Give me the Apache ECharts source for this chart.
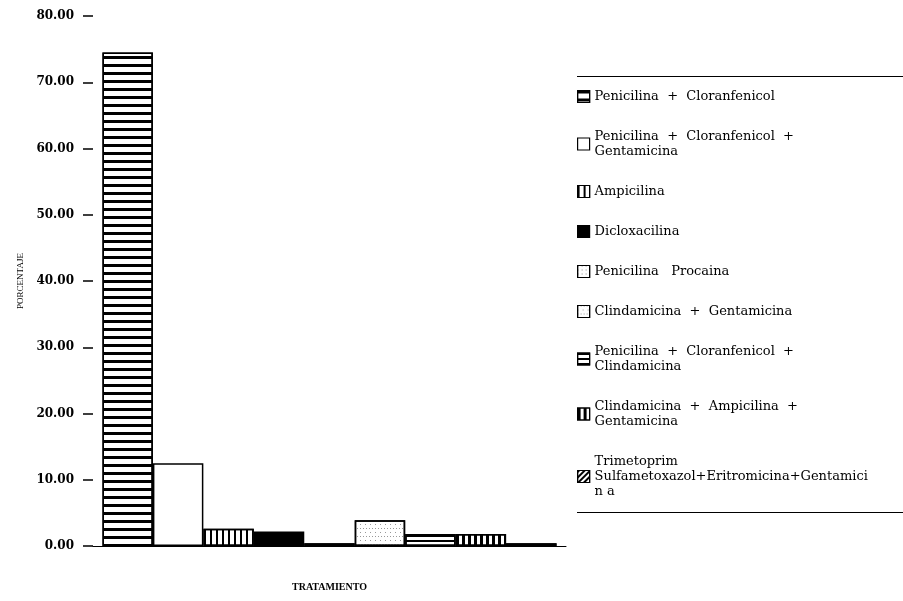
<!DOCTYPE html>
<html>
<head>
<meta charset="utf-8">
<script src="https://cdn.jsdelivr.net/npm/echarts@6/dist/echarts.min.js"></script>
<style>
    html, body { margin: 0; padding: 0; background: #fff; }
    #chart { width: 903px; height: 601px; }
</style>
</head>
<body>
<div id="chart"></div>
<script>
// one category on the x axis, one series per treatment
const categories = ['TRATAMIENTO'];

const treatments = [
    'Penicilina + Cloranfenicol',
    'Penicilina + Cloranfenicol + Gentamicina',
    'Ampicilina',
    'Dicloxacilina',
    'Penicilina Procaina',
    'Clindamicina + Gentamicina',
    'Penicilina + Cloranfenicol + Clindamicina',
    'Clindamicina + Ampicilina + Gentamicina',
    'Trimetoprim Sulfametoxazol+Eritromicina+Gentamicina'
];

// wrapped labels as printed in the legend
const legendLabels = [
    'Penicilina  +  Cloranfenicol',
    'Penicilina  +  Cloranfenicol  +\nGentamicina',
    'Ampicilina',
    'Dicloxacilina',
    'Penicilina   Procaina',
    'Clindamicina  +  Gentamicina',
    'Penicilina  +  Cloranfenicol  +\nClindamicina',
    'Clindamicina  +  Ampicilina  +\nGentamicina',
    'Trimetoprim\nSulfametoxazol+Eritromicina+Gentamici\nn a'
];

const percentages = [74.5, 12.5, 2.6, 2.2, 0.4, 3.9, 1.8, 1.8, 0.4];

const yTicks = { min: 0, max: 80, interval: 10 };

// fill pattern per series
const fills = [
    { color: '#fff', decal: { symbol: 'rect', symbolSize: 1, dashArrayX: [1, 0], dashArrayY: [3, 5], color: '#000' } },
    { color: '#fff', decal: null },
    { color: '#fff', decal: { symbol: 'rect', symbolSize: 1, dashArrayX: [2, 4], dashArrayY: [1, 0], color: '#000' } },
    { color: '#000', decal: null },
    { color: '#fff', decal: { symbol: 'rect', symbolSize: 1, dashArrayX: [1, 3], dashArrayY: [1, 3], color: '#888' } },
    { color: '#fff', decal: { symbol: 'rect', symbolSize: 1, dashArrayX: [[1, 4], [1, 2]], dashArrayY: [1, 3], color: '#999' } },
    { color: '#fff', decal: { symbol: 'rect', symbolSize: 1, dashArrayX: [1, 0], dashArrayY: [2, 3], color: '#000' } },
    { color: '#fff', decal: { symbol: 'rect', symbolSize: 1, dashArrayX: [3, 3], dashArrayY: [1, 0], color: '#000' } },
    { color: '#fff', decal: { symbol: 'rect', symbolSize: 1, dashArrayX: [1, 0], dashArrayY: [2, 2], rotation: -Math.PI / 4, color: '#000' } }
];

// legend icon for "Clindamicina + Gentamicina" is plain white
const legendFills = fills.map((f, i) => i === 5 ? { color: '#fff', decal: null } : f);

const serif = '"Liberation Serif", "DejaVu Serif", serif';
const wideSerif = '"DejaVu Serif", serif';

const chart = echarts.init(document.getElementById('chart'));

chart.setOption({
    animation: false,
    backgroundColor: '#fff',
    grid: { left: 93, right: 337, top: 16, bottom: 55 },
    xAxis: {
        type: 'category',
        data: categories,
        name: 'TRATAMIENTO',
        nameLocation: 'middle',
        nameGap: 36,
        nameTextStyle: { fontFamily: serif, fontSize: 10, fontWeight: 'bold', color: '#000' },
        axisLine: { lineStyle: { color: '#000', width: 1 } },
        axisTick: { show: false },
        axisLabel: { show: false }
    },
    yAxis: {
        type: 'value',
        min: yTicks.min,
        max: yTicks.max,
        interval: yTicks.interval,
        name: 'PORCENTAJE',
        nameLocation: 'middle',
        nameRotate: 90,
        nameGap: 62,
        nameTextStyle: { fontFamily: serif, fontSize: 9, color: '#000' },
        axisLine: { show: false },
        axisTick: { show: true, length: 10, lineStyle: { color: '#000', width: 1.5 } },
        axisLabel: {
            margin: 19,
            fontFamily: wideSerif,
            fontSize: 12,
            fontWeight: 'bold',
            color: '#000',
            formatter: v => v.toFixed(2)
        },
        splitLine: { show: false }
    },
    legend: {
        orient: 'vertical',
        left: 577,
        top: 89,
        padding: 0,
        itemWidth: 12,
        itemHeight: 12,
        itemGap: 25,
        icon: 'rect',
        data: treatments.map((name, i) => ({
            name: name,
            itemStyle: {
                color: legendFills[i].color,
                decal: legendFills[i].decal,
                borderColor: '#000',
                borderWidth: 1.2
            }
        })),
        formatter: name => legendLabels[treatments.indexOf(name)],
        textStyle: { fontFamily: wideSerif, fontSize: 13, color: '#000', lineHeight: 15 }
    },
    graphic: [
        { type: 'line', shape: { x1: 577, y1: 76.5, x2: 903, y2: 76.5 }, style: { stroke: '#000', lineWidth: 1 } },
        { type: 'line', shape: { x1: 577, y1: 512.5, x2: 903, y2: 512.5 }, style: { stroke: '#000', lineWidth: 1 } }
    ],
    series: treatments.map((name, i) => ({
        name: name,
        type: 'bar',
        data: [percentages[i]],
        barGap: '0%',
        barCategoryGap: '4%',
        itemStyle: {
            color: fills[i].color,
            decal: fills[i].decal,
            borderColor: '#000',
            borderWidth: 1.5
        }
    }))
});
</script>
</body>
</html>
